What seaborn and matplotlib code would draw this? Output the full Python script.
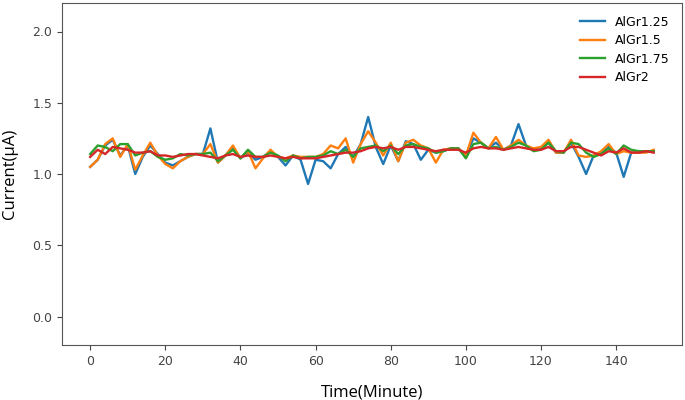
import numpy as np
import pandas as pd
import matplotlib
matplotlib.use("Agg")
import matplotlib.pyplot as plt
import seaborn as sns

# time axis, one reading every 2 minutes
time_min = list(range(0, 151, 2))

algr_125 = [1.05, 1.10, 1.20, 1.24, 1.13, 1.20, 1.00, 1.12, 1.20, 1.14,
            1.08, 1.06, 1.09, 1.12, 1.14, 1.14, 1.32, 1.08, 1.13, 1.18,
            1.11, 1.15, 1.10, 1.12, 1.16, 1.12, 1.06, 1.13, 1.10, 0.93,
            1.10, 1.09, 1.04, 1.14, 1.19, 1.12, 1.21, 1.40, 1.19, 1.07,
            1.20, 1.09, 1.23, 1.21, 1.10, 1.17, 1.15, 1.16, 1.18, 1.18,
            1.13, 1.25, 1.22, 1.18, 1.22, 1.17, 1.20, 1.35, 1.20, 1.17,
            1.18, 1.22, 1.15, 1.15, 1.22, 1.12, 1.00, 1.13, 1.15, 1.19,
            1.15, 0.98, 1.15, 1.15, 1.16, 1.16]
algr_15 = [1.05, 1.10, 1.21, 1.25, 1.12, 1.21, 1.03, 1.13, 1.22, 1.13,
           1.07, 1.04, 1.09, 1.12, 1.14, 1.14, 1.21, 1.08, 1.13, 1.20,
           1.11, 1.16, 1.04, 1.11, 1.17, 1.12, 1.11, 1.13, 1.12, 1.12,
           1.12, 1.14, 1.20, 1.18, 1.25, 1.08, 1.21, 1.30, 1.22, 1.13,
           1.22, 1.09, 1.22, 1.24, 1.20, 1.18, 1.08, 1.17, 1.18, 1.18,
           1.13, 1.29, 1.22, 1.18, 1.26, 1.17, 1.20, 1.24, 1.20, 1.18,
           1.19, 1.24, 1.15, 1.15, 1.24, 1.13, 1.12, 1.13, 1.16, 1.21,
           1.14, 1.16, 1.15, 1.15, 1.15, 1.17]
algr_175 = [1.14, 1.20, 1.19, 1.16, 1.21, 1.21, 1.13, 1.15, 1.16, 1.12,
            1.10, 1.11, 1.14, 1.13, 1.14, 1.14, 1.15, 1.09, 1.13, 1.17,
            1.11, 1.17, 1.12, 1.12, 1.15, 1.13, 1.09, 1.13, 1.11, 1.12,
            1.12, 1.13, 1.16, 1.14, 1.17, 1.12, 1.18, 1.19, 1.20, 1.16,
            1.20, 1.14, 1.20, 1.21, 1.19, 1.18, 1.15, 1.16, 1.18, 1.18,
            1.11, 1.21, 1.22, 1.18, 1.19, 1.17, 1.19, 1.22, 1.20, 1.16,
            1.17, 1.22, 1.16, 1.15, 1.22, 1.21, 1.15, 1.12, 1.14, 1.18,
            1.14, 1.20, 1.17, 1.16, 1.16, 1.16]
algr_2 = [1.12, 1.17, 1.14, 1.19, 1.18, 1.17, 1.15, 1.15, 1.16, 1.13,
          1.13, 1.12, 1.13, 1.14, 1.14, 1.13, 1.12, 1.11, 1.13, 1.14,
          1.12, 1.13, 1.12, 1.12, 1.13, 1.12, 1.11, 1.12, 1.11, 1.11,
          1.11, 1.12, 1.13, 1.14, 1.15, 1.15, 1.16, 1.18, 1.19, 1.18,
          1.19, 1.17, 1.19, 1.19, 1.18, 1.17, 1.16, 1.17, 1.17, 1.17,
          1.15, 1.18, 1.19, 1.18, 1.18, 1.17, 1.18, 1.19, 1.18, 1.17,
          1.17, 1.19, 1.16, 1.16, 1.19, 1.19, 1.17, 1.15, 1.13, 1.16,
          1.15, 1.18, 1.15, 1.15, 1.16, 1.15]

series_names = ["AlGr1.25", "AlGr1.5", "AlGr1.75", "AlGr2"]
series_vals = [algr_125, algr_15, algr_175, algr_2]

frames = []
for name, vals in zip(series_names, series_vals):
    frames.append(pd.DataFrame({"time": time_min, "current": vals, "sample": name}))
df = pd.concat(frames, ignore_index=True)

fig = plt.figure(figsize=(6.85, 4.0), dpi=100)
ax = fig.add_axes([0.0905, 0.1375, 0.905, 0.855])

sns.lineplot(data=df, x="time", y="current", hue="sample",
             palette=["#1f77b4", "#ff7f0e", "#2ca02c", "#d62728"],
             linewidth=1.7, ax=ax)

ax.set_ylim(-0.2, 2.2)
ax.set_xlim(-7.5, 157.5)
ax.set_xticks(range(0, 141, 20))
ax.set_yticks([0.0, 0.5, 1.0, 1.5, 2.0])
ax.tick_params(colors="#444444", labelsize=9)
for s in ax.spines.values():
    s.set_color("#555555")

ax.set_xlabel("Time(Minute)", fontsize=12, family="Open Sans", labelpad=12)
ax.set_ylabel("Current(μA)", fontsize=12, family="Open Sans", labelpad=10)

leg = ax.legend(loc="upper right", frameon=False, fontsize=9, title=None,
                labelspacing=0.45, borderaxespad=0.6)

fig.savefig("out.png", dpi=100)
